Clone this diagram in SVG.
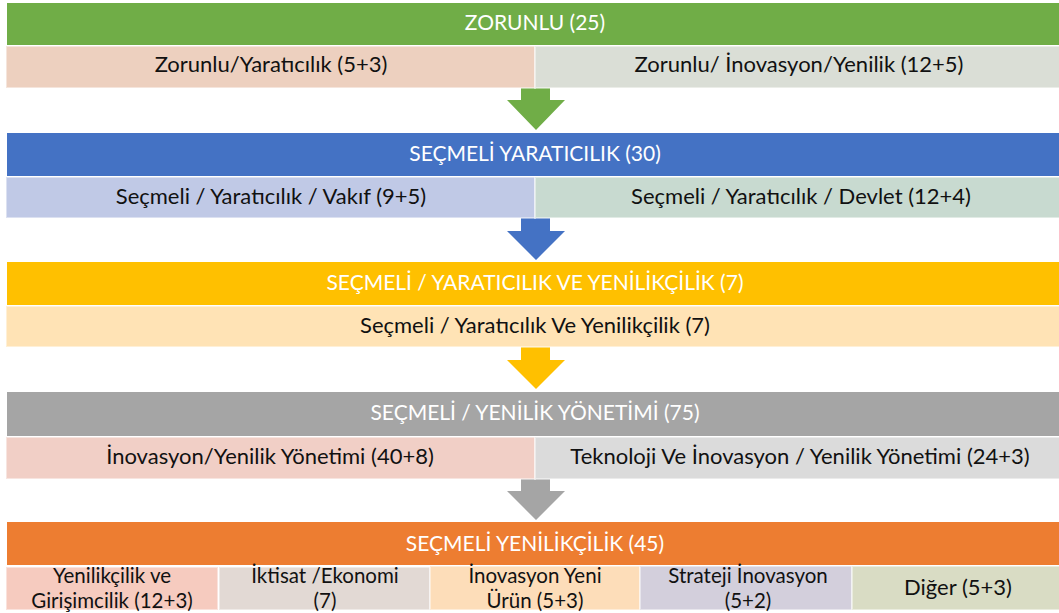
<svg xmlns="http://www.w3.org/2000/svg" width="1059" height="613" viewBox="0 0 1059 613">
<style>
.hd{font-family:Lato,"Open Sans","Liberation Sans",sans-serif;font-size:21px;fill:#ffffff;text-anchor:middle}
.sb{font-family:Lato,"Open Sans","Liberation Sans",sans-serif;font-size:22px;fill:#111111;text-anchor:middle}
.sm{font-family:Lato,"Open Sans","Liberation Sans",sans-serif;font-size:20.5px;fill:#111111;text-anchor:middle}
.cell{stroke:#ffffff;stroke-opacity:0.45;stroke-width:2}
</style>
<rect width="1059" height="613" fill="#ffffff"/>
<g id="connectors">
<polygon points="521,88 550,88 550,100 565,100 536,130 507,100 521,100" fill="#70AD47"/>
<polygon points="521,218 550,218 550,231 565,231 536,260 507,231 521,231" fill="#4472C4"/>
<polygon points="521,347 550,347 550,360 565,360 536,389 507,360 521,360" fill="#FFC000"/>
<polygon points="521,479 550,479 550,491 565,491 536,520 507,491 521,491" fill="#A5A5A5"/>
</g>
<g id="zorunlu">
<rect x="7" y="3" width="1052" height="42" fill="#70AD47"/>
<text class="hd" x="535" y="30">ZORUNLU (25)</text>
</g>
<g id="zorunlu-yaraticilik">
<rect class="cell" x="6" y="46" width="529" height="42" fill="#EDD0BF"/>
<text class="sb" x="271" y="72">Zorunlu/Yaratıcılık (5+3)</text>
</g>
<g id="zorunlu-inovasyon">
<rect class="cell" x="535" y="46" width="525" height="42" fill="#DADED6"/>
<text class="sb" x="799" y="72">Zorunlu/ İnovasyon/Yenilik (12+5)</text>
</g>
<g id="secmeli-yaraticilik">
<rect x="7" y="133" width="1052" height="43" fill="#4472C4"/>
<text class="hd" x="535" y="161">SEÇMELİ YARATICILIK (30)</text>
</g>
<g id="secmeli-vakif">
<rect class="cell" x="6" y="177" width="529" height="41" fill="#C0C9E6"/>
<text class="sb" x="271" y="204">Seçmeli / Yaratıcılık / Vakıf (9+5)</text>
</g>
<g id="secmeli-devlet">
<rect class="cell" x="535" y="177" width="525" height="41" fill="#C8DAD0"/>
<text class="sb" x="801" y="204">Seçmeli / Yaratıcılık / Devlet (12+4)</text>
</g>
<g id="secmeli-yaraticilik-yenilikcilik">
<rect x="7" y="262" width="1052" height="43" fill="#FFC000"/>
<text class="hd" x="535" y="290">SEÇMELİ / YARATICILIK VE YENİLİKÇİLİK (7)</text>
</g>
<g id="secmeli-yy-sub">
<rect class="cell" x="6" y="306" width="1054" height="41" fill="#FFE3B5"/>
<text class="sb" x="535" y="333">Seçmeli / Yaratıcılık Ve Yenilikçilik (7)</text>
</g>
<g id="secmeli-yenilik-yonetimi">
<rect x="7" y="392" width="1052" height="44" fill="#A5A5A5"/>
<text class="hd" x="535" y="420">SEÇMELİ / YENİLİK YÖNETİMİ (75)</text>
</g>
<g id="inovasyon-yonetimi">
<rect class="cell" x="6" y="437" width="529" height="42" fill="#F1CFC6"/>
<text class="sb" x="270" y="464">İnovasyon/Yenilik Yönetimi (40+8)</text>
</g>
<g id="teknoloji-inovasyon">
<rect class="cell" x="535" y="437" width="525" height="42" fill="#DBDBDB"/>
<text class="sb" x="800" y="464">Teknoloji Ve İnovasyon / Yenilik Yönetimi (24+3)</text>
</g>
<g id="secmeli-yenilikcilik">
<rect x="7" y="522" width="1052" height="43" fill="#ED7D31"/>
<text class="hd" x="535" y="551">SEÇMELİ YENİLİKÇİLİK (45)</text>
</g>
<g id="yenilikcilik-girisimcilik">
<rect class="cell" x="6" y="567" width="212" height="43" fill="#F6CBBF"/>
<text class="sm" x="112" y="583">Yenilikçilik ve</text>
<text class="sm" x="112" y="607.5">Girişimcilik (12+3)</text>
</g>
<g id="iktisat">
<rect class="cell" x="219" y="567" width="211" height="43" fill="#E2D9D4"/>
<text class="sm" x="325" y="583">İktisat /Ekonomi</text>
<text class="sm" x="325" y="607.5">(7)</text>
</g>
<g id="inovasyon-yeni-urun">
<rect class="cell" x="430" y="566" width="210" height="44" fill="#FDDDB9"/>
<text class="sm" x="535" y="583">İnovasyon Yeni</text>
<text class="sm" x="535" y="607.5">Ürün (5+3)</text>
</g>
<g id="strateji-inovasyon">
<rect class="cell" x="640" y="566" width="212" height="44" fill="#D3CFDC"/>
<text class="sm" x="748" y="583">Strateji İnovasyon</text>
<text class="sm" x="748" y="607.5">(5+2)</text>
</g>
<g id="diger">
<rect class="cell" x="852" y="566" width="208" height="44" fill="#D9DCC4"/>
<text class="sb" x="958" y="595">Diğer (5+3)</text>
</g>
</svg>
